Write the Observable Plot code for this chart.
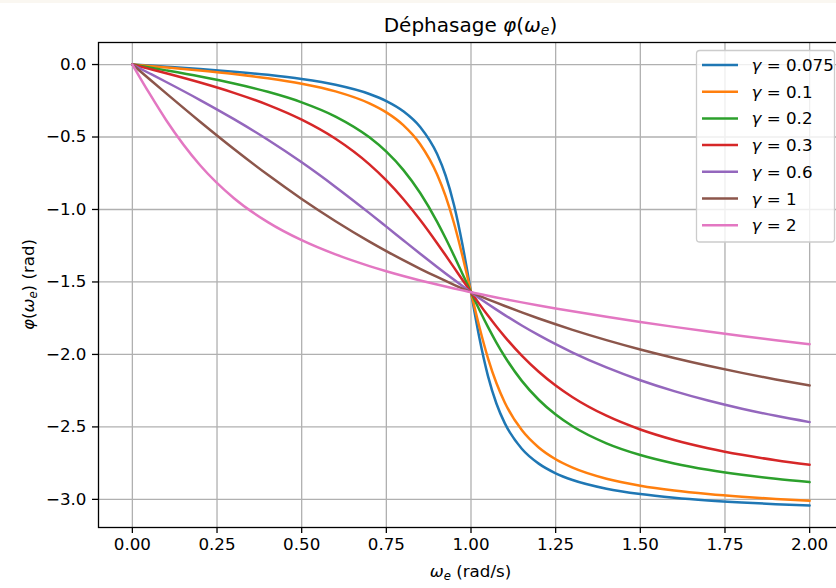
<!DOCTYPE html>
<html><head><meta charset="utf-8">
<script src="https://cdn.jsdelivr.net/npm/d3@7"></script>
<script src="https://cdn.jsdelivr.net/npm/@observablehq/plot@0.6"></script>
<style>
html,body{margin:0;padding:0;background:#fff;overflow:hidden;width:836px;height:588px;}
#chart{position:absolute;left:0;top:0;width:843px;}
#topband{position:absolute;left:0;top:0;width:836px;height:3px;background:#faf7f1;}
</style></head><body>
<div id="chart"></div>
<div id="topband"></div>
<script>
// ω_e values (rad/s)
const omega = [0, 0.05, 0.1, 0.2, 0.3, 0.4, 0.5, 0.6, 0.7, 0.75, 0.8, 0.85, 0.9, 0.925, 0.95, 0.975, 0.99, 1.0, 1.01, 1.025, 1.05, 1.075, 1.1, 1.15, 1.2, 1.25, 1.3, 1.4, 1.5, 1.6, 1.7, 1.8, 1.9, 2.0];
// φ(ω_e) in rad for each γ
const phi_g0075 = [0, -0.0075, -0.0152, -0.0312, -0.0494, -0.0713, -0.0997, -0.1397, -0.2030, -0.2517, -0.3218, -0.4307, -0.6178, -0.7655, -0.9707, -1.2452, -1.4376, -1.5708, -1.7027, -1.8889, -2.1477, -2.3384, -2.4756, -2.6504, -2.7533, -2.8198, -2.8662, -2.9262, -2.9635, -2.9889, -3.0075, -3.0216, -3.0328, -3.0419];
const phi_g01 = [0, -0.0100, -0.0202, -0.0416, -0.0658, -0.0950, -0.1326, -0.1853, -0.2679, -0.3303, -0.4182, -0.5496, -0.7584, -0.9081, -1.0967, -1.3228, -1.4706, -1.5708, -1.6700, -1.8129, -2.0249, -2.1974, -2.3329, -2.5221, -2.6422, -2.7234, -2.7812, -2.8578, -2.9060, -2.9393, -2.9636, -2.9822, -2.9970, -3.0090];
const phi_g02 = [0, -0.0200, -0.0404, -0.0831, -0.1311, -0.1882, -0.2606, -0.3588, -0.5021, -0.6011, -0.7266, -0.8863, -1.0852, -1.1988, -1.3196, -1.4449, -1.5206, -1.5708, -1.6205, -1.6937, -1.8102, -1.9181, -2.0161, -2.1823, -2.3127, -2.4149, -2.4958, -2.6135, -2.6941, -2.7523, -2.7962, -2.8306, -2.8582, -2.8810];
const phi_g03 = [0, -0.0301, -0.0605, -0.1244, -0.1953, -0.2783, -0.3805, -0.5124, -0.6889, -0.7995, -0.9273, -1.0725, -1.2325, -1.3163, -1.4014, -1.4866, -1.5373, -1.5708, -1.6040, -1.6529, -1.7321, -1.8076, -1.8788, -2.0080, -2.1193, -2.2143, -2.2950, -2.4228, -2.5176, -2.5899, -2.6467, -2.6923, -2.7298, -2.7611];
const phi_g06 = [0, -0.0601, -0.1206, -0.2450, -0.3767, -0.5191, -0.6747, -0.8442, -1.0251, -1.1183, -1.2120, -1.3052, -1.3967, -1.4415, -1.4855, -1.5286, -1.5540, -1.5708, -1.5874, -1.6119, -1.6520, -1.6909, -1.7286, -1.8004, -1.8673, -1.9296, -1.9872, -2.0899, -2.1778, -2.2531, -2.3180, -2.3744, -2.4236, -2.4669];
const phi_g1 = [0, -0.0999, -0.1993, -0.3948, -0.5829, -0.7610, -0.9273, -1.0808, -1.2215, -1.2870, -1.3495, -1.4090, -1.4656, -1.4929, -1.5195, -1.5455, -1.5607, -1.5708, -1.5807, -1.5955, -1.6196, -1.6431, -1.6660, -1.7101, -1.7521, -1.7921, -1.8302, -1.9011, -1.9656, -2.0244, -2.0781, -2.1274, -2.1726, -2.2143];
const phi_g2 = [0, -0.1979, -0.3840, -0.6947, -0.9220, -1.0873, -1.2120, -1.3102, -1.3906, -1.4260, -1.4588, -1.4894, -1.5181, -1.5318, -1.5451, -1.5581, -1.5658, -1.5708, -1.5758, -1.5831, -1.5952, -1.6070, -1.6185, -1.6408, -1.6622, -1.6828, -1.7027, -1.7406, -1.7762, -1.8099, -1.8419, -1.8724, -1.9016, -1.9296];

const gammaLabels = ["0.075", "0.1", "0.2", "0.3", "0.6", "1", "2"];
const seriesValues = [phi_g0075, phi_g01, phi_g02, phi_g03, phi_g06, phi_g1, phi_g2];
const xTicks = [0, 0.25, 0.5, 0.75, 1.0, 1.25, 1.5, 1.75, 2.0];
const yTicks = [0, -0.5, -1.0, -1.5, -2.0, -2.5, -3.0];

// styles
const colors = ["#1f77b4", "#ff7f0e", "#2ca02c", "#d62728", "#9467bd", "#8c564b", "#e377c2"];
const FS = 16.7;

const rows = [];
seriesValues.forEach((vals, i) => vals.forEach((v, j) => rows.push({gamma: gammaLabels[i], w: omega[j], phi: v})));

const plot = Plot.plot({
  width: 843, height: 588,
  marginLeft: 98, marginRight: 0, marginTop: 42, marginBottom: 61,
  style: {fontFamily: "DejaVu Sans", fontSize: FS + "px", color: "black", background: "white", maxWidth: "none", overflow: "visible"},
  x: {domain: [-0.1, 2.1]},
  y: {domain: [-3.194, 0.152]},
  marks: [
    Plot.gridX(xTicks, {stroke: "#b0b0b0", strokeOpacity: 1, strokeWidth: 1.3}),
    Plot.gridY(yTicks, {stroke: "#b0b0b0", strokeOpacity: 1, strokeWidth: 1.3}),
    ...gammaLabels.map((g, i) => Plot.line(rows.filter(d => d.gamma === g), {
      x: "w", y: "phi", stroke: colors[i], strokeWidth: 2.5, curve: "monotone-x"
    })),
    Plot.frame({stroke: "black", strokeWidth: 1.3}),
    Plot.axisX(xTicks, {tickFormat: d3.format(".2f"), tickSize: 6, tickPadding: 5, label: null, strokeWidth: 1.3, fontSize: FS}),
    Plot.axisY(yTicks, {tickFormat: d3.format(".1f"), tickSize: 6, tickPadding: 6, label: null, strokeWidth: 1.3, fontSize: FS})
  ]
});
document.getElementById("chart").appendChild(plot);

const svg = d3.select(plot);

// title
const t = svg.append("text").attr("x", 470.5).attr("y", 32).attr("text-anchor", "middle")
  .attr("font-size", 20).attr("fill", "black");
t.append("tspan").text("Déphasage ");
t.append("tspan").attr("font-style", "italic").text("φ");
t.append("tspan").text("(");
t.append("tspan").attr("font-style", "italic").text("ω");
t.append("tspan").attr("font-style", "italic").attr("font-size", 14).attr("dy", 3).text("e");
t.append("tspan").attr("dy", -3).text(")");

// x label
const xl = svg.append("text").attr("x", 470.5).attr("y", 577).attr("text-anchor", "middle")
  .attr("font-size", FS).attr("fill", "black");
xl.append("tspan").attr("font-style", "italic").text("ω");
xl.append("tspan").attr("font-style", "italic").attr("font-size", 11.7).attr("dy", 2.5).text("e");
xl.append("tspan").attr("dy", -2.5).text(" (rad/s)");

// y label
const yl = svg.append("text").attr("transform", "translate(34,284.5) rotate(-90)").attr("text-anchor", "middle")
  .attr("font-size", FS).attr("fill", "black");
yl.append("tspan").attr("font-style", "italic").text("φ");
yl.append("tspan").text("(");
yl.append("tspan").attr("font-style", "italic").text("ω");
yl.append("tspan").attr("font-style", "italic").attr("font-size", 11.7).attr("dy", 2.5).text("e");
yl.append("tspan").attr("dy", -2.5).text(") (rad)");

// legend
const lg = svg.append("g");
lg.append("rect").attr("x", 696.5).attr("y", 50.5).attr("width", 138).attr("height", 191.5).attr("rx", 3.3)
  .attr("fill", "white").attr("fill-opacity", 0.8).attr("stroke", "#cccccc").attr("stroke-width", 1.3);
gammaLabels.forEach((g, i) => {
  const cy = 65 + i * 26.7;
  lg.append("line").attr("x1", 702).attr("x2", 738).attr("y1", cy).attr("y2", cy)
    .attr("stroke", colors[i]).attr("stroke-width", 2.5);
  const tx = lg.append("text").attr("x", 751.5).attr("y", cy + 6).attr("text-anchor", "start")
    .attr("font-size", FS).attr("fill", "black");
  tx.append("tspan").attr("font-style", "italic").text("γ");
  tx.append("tspan").text(" = " + g);
});
</script>
</body></html>
